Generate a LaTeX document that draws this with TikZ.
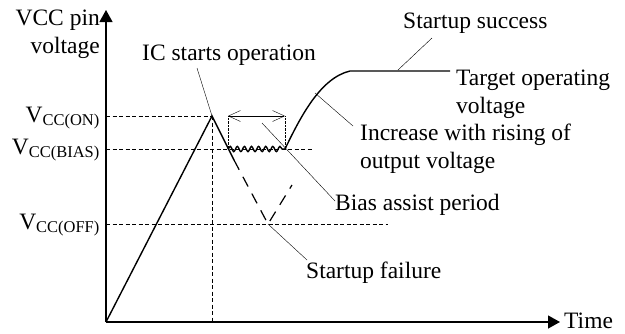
\documentclass[tikz,border=0pt]{standalone}
\usepackage{fontspec}
\setmainfont{Liberation Serif}
\usetikzlibrary{arrows.meta, decorations.pathmorphing, positioning}

\begin{document}
\begin{tikzpicture}[x=1pt, y=-1pt,
    lbl/.style={inner sep=0pt, font=\fontsize{23.5}{27.5}\selectfont},
    axis/.style={line width=1.3pt, -{Triangle[length=12pt,width=13pt]}},
    level/.style={thin, dash pattern=on 4pt off 2.5pt},
    wave/.style={line width=1.4pt},
    fail/.style={line width=1.2pt, dash pattern=on 11pt off 8pt},
    leader/.style={thin}]
  \useasboundingbox (0,0) rectangle (625,333);

  % points of the waveform
  \coordinate (O) at (106,322);
  \coordinate (ytip) at (106,10);
  \coordinate (xtip) at (560,322);
  \coordinate (on) at (106,116);
  \coordinate (bias) at (106,149);
  \coordinate (off) at (106,224);
  \coordinate (peak) at (212,116);
  \coordinate (peakbase) at (212,322);
  \coordinate (bstart) at (228,149);
  \coordinate (bend) at (285,149);
  \coordinate (drop) at (234,160);
  \coordinate (fail) at (268,224);
  \coordinate (failup) at (292,185);
  \coordinate (knee) at (315,93);
  \coordinate (flat) at (350,71);
  \coordinate (target) at (450,71);
  \coordinate (biasend) at (313,149);
  \coordinate (offend) at (388,224);

  % axes
  \draw[axis] (O) -- (ytip);
  \draw[axis] (O) -- (xtip);

  % level lines
  \draw[level] (on) -- (peak);
  \draw[level] (bias) -- (biasend);
  \draw[level] (off) -- (offend);
  \draw[level] (peak) -- (peakbase);
  \draw[thin, densely dotted] (bstart) -- (bstart |- peak);
  \draw[thin, densely dotted] (bend) -- (bend |- peak);
  \draw[thin, {Straight Barb[length=12pt,width=11pt]}-{Straight Barb[length=12pt,width=11pt]}]
    (bstart |- peak) -- (bend |- peak);

  % waveform
  \draw[wave] (O) -- (peak) -- (drop);
  \draw[wave, decorate, decoration={snake, segment length=7.1pt, amplitude=2.6pt}]
    (bstart) -- (bend);
  \draw[wave] (bend) .. controls (300,118) and (320,78) .. (flat) -- (target);
  \draw[fail] (drop) -- (fail) -- (failup);

  % labels
  \node[lbl, align=right, anchor=base east] (yname) at (100,53) {VCC pin\\voltage};
  \node[lbl, anchor=base west] (time) at (564,328) {Time};
  \node[lbl, anchor=east] (von) at (100,118) {V\textsubscript{CC(ON)}};
  \node[lbl, anchor=east] (vbias) at (100,150) {V\textsubscript{CC(BIAS)}};
  \node[lbl, anchor=east] (voff) at (100,225) {V\textsubscript{CC(OFF)}};
  \node[lbl, anchor=base west] (ic) at (142,60) {IC starts operation};
  \node[lbl, anchor=base west] (success) at (403,28) {Startup success};
  \node[lbl, align=left, anchor=base west] (tgt) at (456,113) {Target operating\\voltage};
  \node[lbl, align=left, anchor=base west] (rise) at (360,168) {Increase with rising of\\output voltage};
  \node[lbl, anchor=base west] (assist) at (335,210) {Bias assist period};
  \node[lbl, anchor=base west] (failure) at (306,278) {Startup failure};

  % leaders
  \coordinate (icfoot) at (197,68);
  \coordinate (sfoot) at (432,38);
  \coordinate (sline) at (398,70);
  \coordinate (risefoot) at (353,126);
  \coordinate (assistfoot) at (262,123);
  \coordinate (assisthead) at (335,201);
  \coordinate (failfoot) at (307,260);
  \draw[leader] (icfoot) -- (peak);
  \draw[leader] (sfoot) -- (sline);
  \draw[leader] (knee) -- (risefoot);
  \draw[leader] (assistfoot) -- (assisthead);
  \draw[leader] (fail) -- (failfoot);
\end{tikzpicture}
\end{document}
